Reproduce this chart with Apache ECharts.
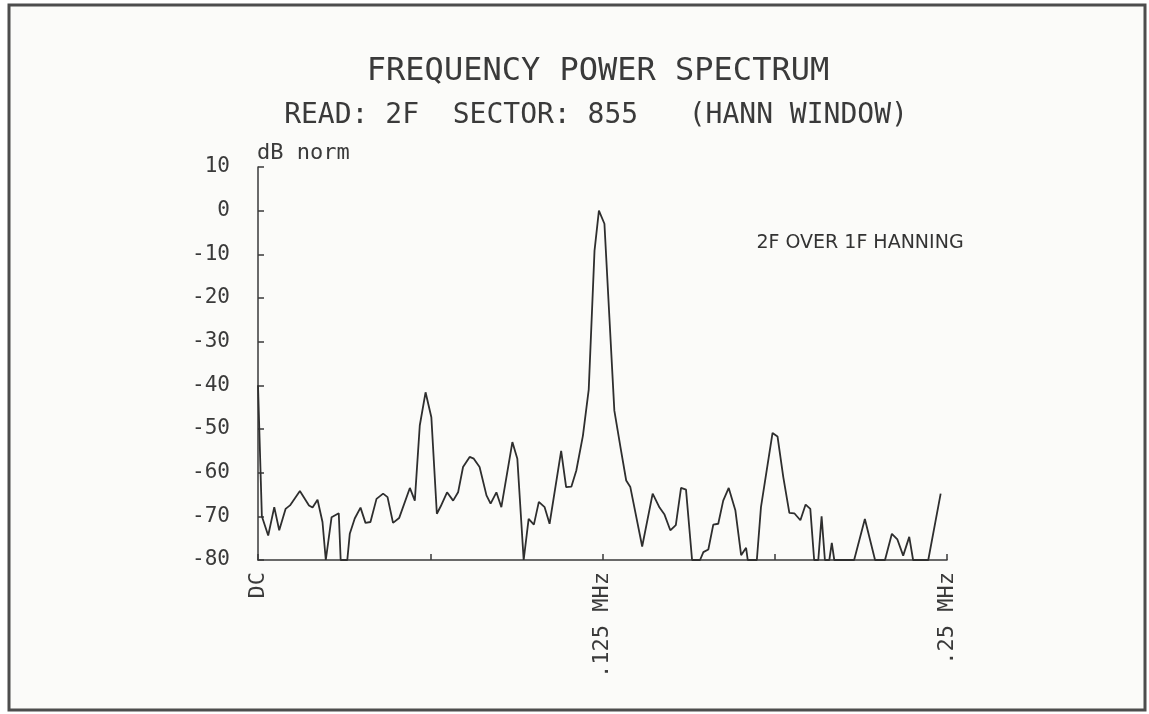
<!DOCTYPE html>
<html>
<head>
<meta charset="utf-8">
<script src="https://cdn.jsdelivr.net/npm/echarts@6/dist/echarts.min.js"></script>
<style>
  html, body { margin: 0; padding: 0; background: #ffffff; }
  #chart { width: 1149px; height: 714px; }
</style>
</head>
<body>
<div id="chart"></div>
<script>
// frequency in kHz (DC .. .25 MHz), power in dB norm
const freqKHz = [
  0, 1.4, 3.7, 5.9, 7.7, 10.0, 11.6, 15.2, 18.5, 19.8, 21.6, 23.4, 24.6, 26.7, 29.3, 30.0,
  32.4, 33.3, 35.1, 37.2, 39.0, 40.8, 43.0, 45.4, 47.0, 49.0, 51.2, 55.1, 56.9, 58.7, 60.8,
  62.9, 64.9, 66.3, 68.6, 70.8, 72.6, 74.4, 76.8, 78.3, 80.4, 82.9, 84.4, 86.5, 88.3, 92.3,
  94.1, 96.4, 98.2, 100.1, 101.9, 104.0, 105.8, 110.0, 111.8, 113.7, 115.5, 117.9, 120.0,
  122.1, 123.7, 125.7, 127.5, 129.3, 131.5, 133.6, 135.1, 139.4, 143.2, 145.7, 147.5, 149.6,
  151.6, 153.5, 155.3, 157.5, 160.4, 161.6, 163.4, 165.2, 167.0, 168.8, 170.8, 173.2, 175.3,
  177.1, 177.7, 181.0, 182.5, 186.7, 188.5, 190.6, 192.8, 194.6, 196.8, 198.7, 200.4, 201.8,
  203.3, 204.5, 205.7, 207.3, 208.2, 209.1, 216.3, 220.2, 223.9, 227.5, 230.0, 232.0, 234.1,
  236.3, 237.7, 243.2, 247.7
];
const powerDb = [
  -40, -70, -74.4, -67.9, -73.2, -68.3, -67.5, -64.2, -67.5, -68.0, -66.2, -71.3, -80, -70.2, -69.3, -80,
  -80, -74, -70.5, -68, -71.5, -71.3, -66, -64.8, -65.6, -71.5, -70.4, -63.5, -66.4, -49.2, -41.6,
  -47.3, -69.4, -67.7, -64.5, -66.4, -64.5, -58.7, -56.4, -56.8, -58.7, -65.2, -67.1, -64.5, -67.9, -53,
  -56.8, -80, -70.6, -71.9, -66.7, -67.9, -71.7, -55, -63.3, -63.2, -59.5, -51.5, -41,
  -9.2, 0, -3, -24.4, -45.8, -54.1, -61.8, -63.3, -76.9, -64.8, -68, -69.6, -73.2,
  -72, -63.5, -63.9, -80, -80, -78.2, -77.6, -71.9, -71.7, -66.4, -63.5, -68.6, -78.9,
  -77.2, -80, -80, -67.9, -50.9, -51.7, -61, -69.2, -69.3, -70.9, -67.3, -68.3, -80,
  -80, -70, -80, -80, -76.1, -80, -80, -70.6, -80, -80, -74, -75.3, -79,
  -74.7, -80, -80, -64.8
];
const xTickLabels = { 0: 'DC', 125: '.125 MHz', 250: '.25 MHz' };

const ink = '#3a3a3a';
const mono = '"DejaVu Sans Mono", monospace';

let mychart = echarts.init(document.getElementById('chart'));

let option = {
    backgroundColor: '#ffffff',
    animation: false,
    graphic: [
        // 外框
        {
            type: 'rect',
            shape: { x: 9, y: 5, width: 1136, height: 705 },
            style: { fill: '#fbfbf9', stroke: '#4d4d4d', lineWidth: 3 },
            z: -10
        },
        {
            type: 'text', x: 598, y: 72,
            style: { text: 'FREQUENCY POWER SPECTRUM', font: '32px ' + mono, fill: ink, align: 'center', verticalAlign: 'middle' }
        },
        {
            type: 'text', x: 596, y: 116,
            style: { text: 'READ: 2F  SECTOR: 855   (HANN WINDOW)', font: '28px ' + mono, fill: ink, align: 'center', verticalAlign: 'middle' }
        },
        {
            type: 'text', x: 257, y: 153,
            style: { text: 'dB norm', font: '22px ' + mono, fill: ink, align: 'left', verticalAlign: 'middle' }
        },
        {
            type: 'text', x: 860, y: 243,
            style: { text: '2F OVER 1F HANNING', font: '19px "DejaVu Sans", sans-serif', fill: '#333', align: 'center', verticalAlign: 'middle' }
        }
    ],
    grid: { left: 258, top: 167, right: 202, bottom: 154, containLabel: false },
    xAxis: {
        type: 'value',
        min: 0,
        max: 250,
        interval: 62.5,
        splitLine: { show: false },
        axisLine: { show: true, onZero: false, lineStyle: { color: ink, width: 1.5 } },
        axisTick: { show: true, inside: true, length: 6, lineStyle: { color: ink, width: 1.5 } },
        axisLabel: {
            rotate: 90,
            margin: 12,
            color: ink,
            fontFamily: mono,
            fontSize: 22,
            formatter: v => xTickLabels[v] || ''
        }
    },
    yAxis: {
        type: 'value',
        min: -80,
        max: 10,
        interval: 10,
        splitLine: { show: false },
        axisLine: { show: true, onZero: false, lineStyle: { color: ink, width: 1.5 } },
        axisTick: { show: true, inside: true, length: 6, lineStyle: { color: ink, width: 1.5 } },
        axisLabel: { margin: 28, color: ink, fontFamily: mono, fontSize: 21 }
    },
    series: [
        {
            type: 'line',
            data: freqKHz.map((f, i) => [f, powerDb[i]]),
            showSymbol: false,
            lineStyle: { color: '#2e2e2e', width: 1.8 },
            clip: false
        }
    ]
};
mychart.setOption(option);
</script>
</body>
</html>
